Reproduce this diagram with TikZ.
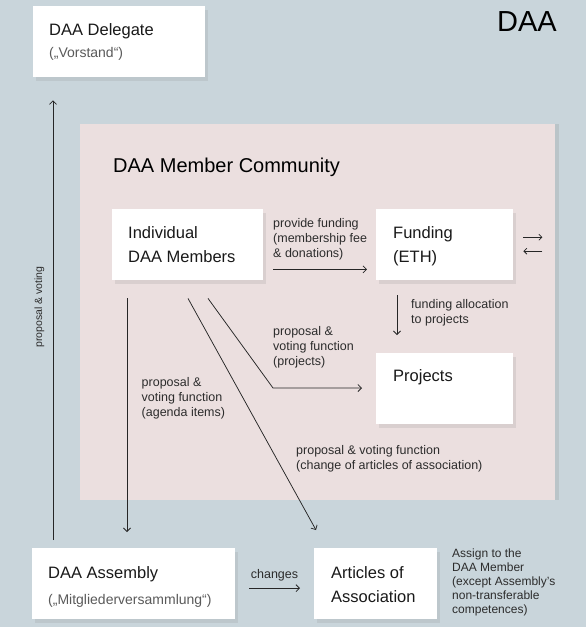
\documentclass[tikz,border=0pt]{standalone}
\usepackage{fontspec}
\setmainfont{Liberation Sans}
\usetikzlibrary{arrows.meta,positioning,shadows}

\definecolor{bgblue}{HTML}{C9D5DB}
\definecolor{communitypink}{HTML}{EBDFDF}
\definecolor{labelgrey}{HTML}{2C2C2C}
\definecolor{subgrey}{HTML}{5A5A5A}

\tikzset{
  card/.style={fill=white, inner sep=0pt, anchor=north west,
    drop shadow={opacity=0.16, shadow xshift=3pt, shadow yshift=-4pt}},
  cardtitle/.style={inner sep=0pt, align=left, text=black!90,
    font=\fontsize{16.5}{24}\selectfont},
  cardsub/.style={inner sep=0pt, anchor=base west, text=subgrey,
    font=\fontsize{14}{17}\selectfont},
  flowlabel/.style={inner sep=0pt, anchor=north west, align=left, text=labelgrey,
    font=\fontsize{12.5}{15}\selectfont},
  flow/.style={-{Straight Barb[length=3.5pt,width=7pt]}, line width=0.75pt, draw=black!85},
}

\begin{document}
\begin{tikzpicture}[x=1pt, y=-1pt]
    \fill[bgblue] (0,0) rectangle (586,627);
    \useasboundingbox (0,0) rectangle (586,627);

    % member community area
    \node[anchor=north west, inner sep=0pt, fill=communitypink, minimum width=475pt, minimum height=376pt,
      drop shadow={opacity=0.2, shadow xshift=4pt, shadow yshift=0pt}] (community) at (80,124) {};
    \node[inner sep=0pt, anchor=base west, font=\fontsize{20}{24}\selectfont] (communitytitle) at (113,172) {DAA Member Community};
    \node[inner sep=0pt, anchor=base west, font=\fontsize{29}{32}\selectfont] (daatitle) at (497,31) {DAA};

    % boxes
    \node[card, minimum width=172pt, minimum height=71pt] (delegate) at (33,6) {};
    \node[card, minimum width=151pt, minimum height=71pt] (members) at (112,209) {};
    \node[card, minimum width=137pt, minimum height=71pt] (funding) at (376,209) {};
    \node[card, minimum width=137pt, minimum height=71pt] (projects) at (376,353) {};
    \node[card, minimum width=203pt, minimum height=71pt] (assembly) at (32,548) {};
    \node[card, minimum width=123pt, minimum height=71pt] (articles) at (314,548) {};

    \node[cardtitle, anchor=base west] (delegatetext) at (49,35) {DAA Delegate};
    \node[cardsub] (delegatesub) at (49,57) {(„Vorstand“)};
    \node[cardtitle, anchor=north west] (memberstext) at (128,226) {Individual\\DAA Members};
    \node[cardtitle, anchor=north west] (fundingtext) at (393,226) {Funding\\(ETH)};
    \node[cardtitle, anchor=base west] (projectstext) at (393,381) {Projects};
    \node[cardtitle, anchor=base west] (assemblytext) at (48,578) {DAA Assembly};
    \node[cardsub] (assemblysub) at (48,604) {(„Mitgliederversammlung“)};
    \node[cardtitle, anchor=north west] (articlestext) at (331,566) {Articles of\\Association};

    % labels
    \node[flowlabel] (fundinglabel) at (273,218) {provide funding\\(membership fee\\\& donations)};
    \node[flowlabel] (allocationlabel) at (411,299) {funding allocation\\to projects};
    \node[flowlabel] (projectslabel) at (273,326) {proposal \&\\voting function\\(projects)};
    \node[flowlabel] (agendalabel) at (141.5,377) {proposal \&\\voting function\\(agenda items)};
    \node[flowlabel] (changelabel) at (296,445) {proposal \& voting function\\(change of articles of association)};
    \node[flowlabel, anchor=base] (changeslabel) at (274.5,578) {changes};
    \node[flowlabel, font=\fontsize{12}{14}\selectfont] (assignlabel) at (452,549)
      {Assign to the\\DAA Member\\(except Assembly's\\non-transferable\\competences)};
    \node[inner sep=0pt, rotate=90, text=labelgrey, font=\fontsize{10.5}{12}\selectfont] (votinglabel) at (39.5,307) {proposal \& voting};

    % connectors
    \coordinate (projectsbend) at (273,388);
    \draw[flow] ([xshift=10pt,yshift=11pt]members.south east) -- ([xshift=-9pt,yshift=11pt]funding.south west);
    \draw[flow] ([xshift=21pt,yshift=-15pt]funding.south west) -- ([xshift=21pt,yshift=18pt]projects.north west);
    \draw[flow] ([xshift=96pt,yshift=-18pt]members.south west) -- (projectsbend) -- ([xshift=-14pt,yshift=-35pt]projects.north west);
    \draw[flow] ([xshift=15pt,yshift=-18pt]members.south west) -- ([xshift=95pt,yshift=16pt]assembly.north west);
    \draw[flow] ([xshift=76pt,yshift=-18pt]members.south west) -- ([xshift=2pt,yshift=18pt]articles.north west);
    \draw[flow] ([xshift=14pt,yshift=-4.5pt]assembly.east) -- ([xshift=-14pt,yshift=-4.5pt]articles.west);
    \draw[flow] ([xshift=21pt,yshift=8pt]assembly.north west) -- ([xshift=20pt,yshift=-23pt]delegate.south west);
    \draw[flow, -{Straight Barb[length=3pt,width=6pt]}] ([xshift=10pt,yshift=7.5pt]funding.east) -- ([xshift=29pt,yshift=7.5pt]funding.east);
    \draw[flow, -{Straight Barb[length=3pt,width=6pt]}] ([xshift=29pt,yshift=-6.5pt]funding.east) -- ([xshift=10pt,yshift=-6.5pt]funding.east);
\end{tikzpicture}
\end{document}
